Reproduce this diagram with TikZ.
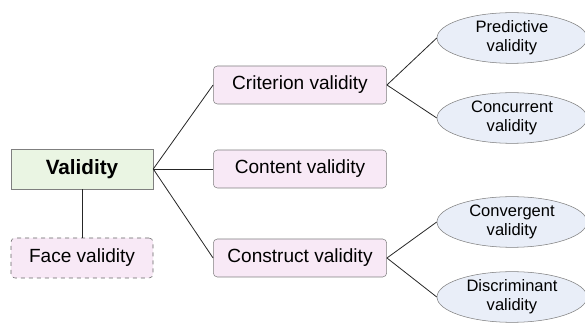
\documentclass[tikz,border=0pt]{standalone}
\usepackage{fontspec}
\setmainfont{Liberation Sans}
\usetikzlibrary{shapes.geometric}
\definecolor{rootfill}{HTML}{EAF5E3}
\definecolor{subfill}{HTML}{F8E9F6}
\definecolor{leaffill}{HTML}{E9EEF8}
\definecolor{edgegray}{HTML}{7F7F7F}
\begin{document}
\begin{tikzpicture}[x=0.75pt, y=-0.75pt,
  rootbox/.style={draw=edgegray, fill=rootfill, minimum width=106.5pt, minimum height=30pt,
    font=\fontsize{15.5}{18}\selectfont\bfseries},
  subbox/.style={draw=edgegray, fill=subfill, rounded corners=3pt, minimum width=130pt,
    minimum height=28.5pt, font=\fontsize{14.3}{16}\selectfont},
  leaf/.style={draw=edgegray, fill=leaffill, ellipse, minimum width=112.5pt, minimum height=38pt,
    inner sep=0pt, align=center, font=\fontsize{12.4}{14.5}\selectfont},
  link/.style={draw=black!85, semithick}]
    \useasboundingbox (0,0) rectangle (585,323);

    % Root
    \node [rootbox] (val) at (82,169) {Validity};
    \node [subbox, dashed, draw=black!60, minimum width=106.5pt, minimum height=30pt] (face) at (82,258) {Face validity};

    % Second level
    \node [subbox] (crit) at (300,85) {Criterion validity};
    \node [subbox] (cont) at (300,169) {Content validity};
    \node [subbox] (cons) at (300,258) {Construct validity};

    % Leaves
    \node [leaf] (pred) at (512,38) {Predictive\\validity};
    \node [leaf] (conc) at (512,118) {Concurrent\\validity};
    \node [leaf] (conv) at (512,222) {Convergent\\validity};
    \node [leaf] (disc) at (512,297) {Discriminant\\validity};

    % Connections
    \draw [link] (val.south) -- (face.north);
    \foreach \j in {crit, cont, cons} {
      \draw [link] (val.east) -- (\j.west);
    }
    \foreach \j in {pred, conc} {
      \draw [link] (crit.east) -- (\j.west);
    }
    \foreach \j in {conv, disc} {
      \draw [link] (cons.east) -- (\j.west);
    }
\end{tikzpicture}
\end{document}
